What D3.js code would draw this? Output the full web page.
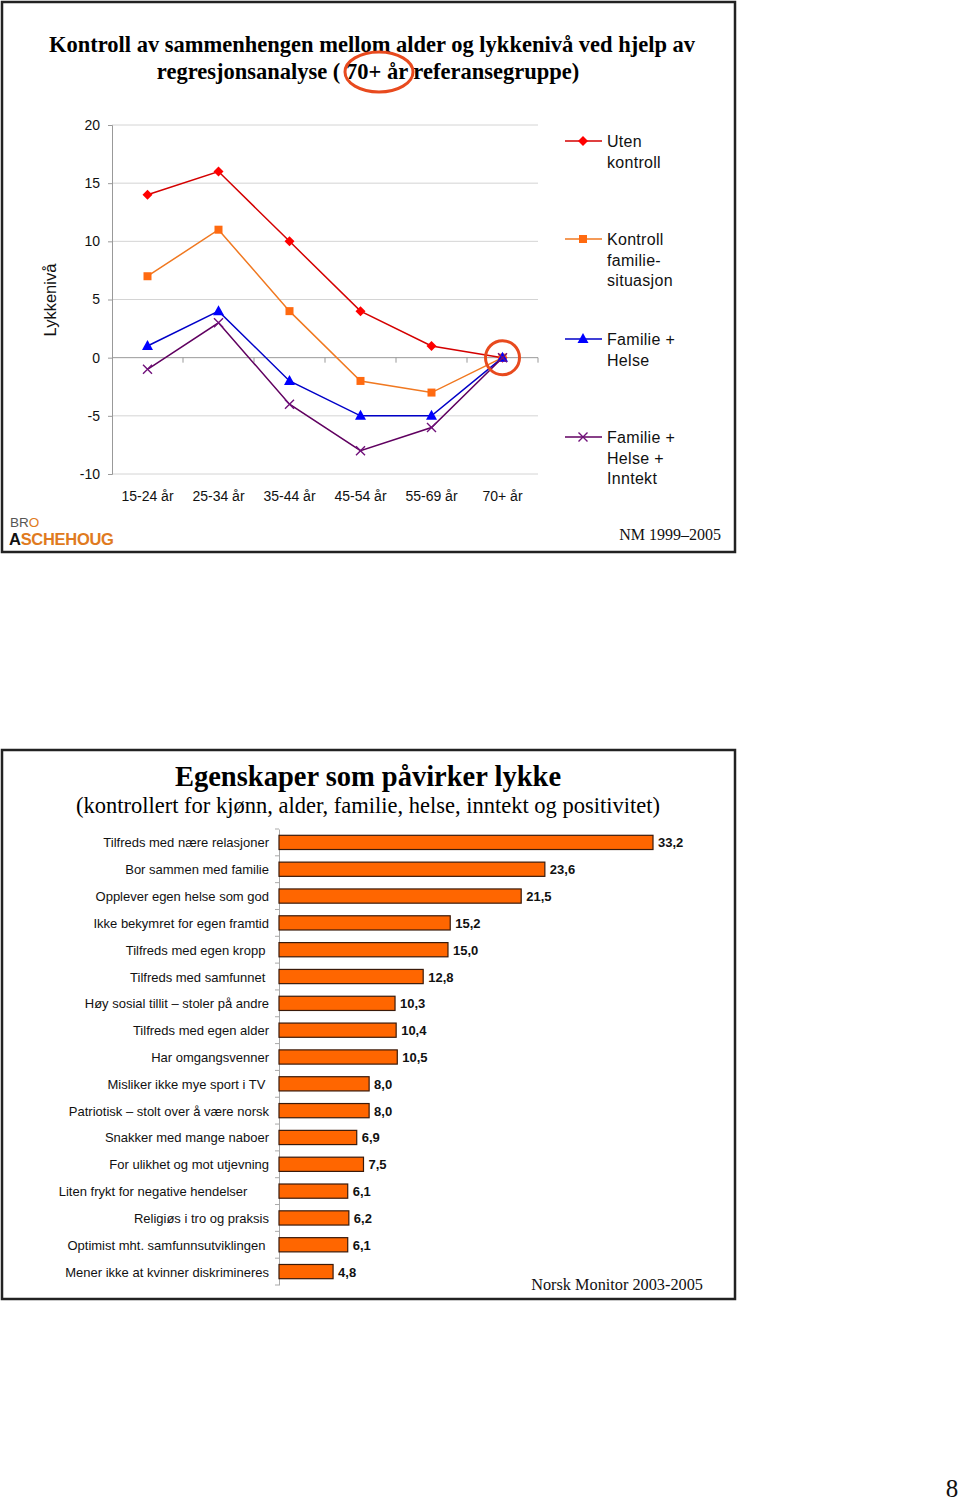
<!DOCTYPE html>
<html><head><meta charset="utf-8">
<script src="https://cdn.jsdelivr.net/npm/d3@7"></script>
<style>
body{margin:0;background:#fff;}
svg text{white-space:pre;}
</style></head>
<body>
<svg id="c" width="960" height="1501"></svg>
<script>
// ---------- DATA ----------
const ageGroups = ["15-24 år","25-34 år","35-44 år","45-54 år","55-69 år","70+ år"];
const seriesNames = ["Uten kontroll","Kontroll familie-situasjon","Familie + Helse","Familie + Helse + Inntekt"];
const utenKontroll = [14, 16, 10, 4, 1, 0];
const kontrollFamilie = [7, 11, 4, -2, -3, 0];
const familieHelse = [1, 4, -2, -5, -5, 0];
const familieHelseInntekt = [-1, 3, -4, -8, -6, 0];
const yTicks = [20, 15, 10, 5, 0, -5, -10];

const barCategories = ["Tilfreds med nære relasjoner","Bor sammen med familie","Opplever egen helse som god","Ikke bekymret for egen framtid","Tilfreds med egen kropp ","Tilfreds med samfunnet ","Høy sosial tillit – stoler på andre","Tilfreds med egen alder","Har omgangsvenner","Misliker ikke mye sport i TV ","Patriotisk – stolt over å være norsk","Snakker med mange naboer","For ulikhet og mot utjevning","Liten frykt for negative hendelser      ","Religiøs i tro og praksis","Optimist mht. samfunnsutviklingen ","Mener ikke at kvinner diskrimineres"];
const barValues = [33.2, 23.6, 21.5, 15.2, 15.0, 12.8, 10.3, 10.4, 10.5, 8.0, 8.0, 6.9, 7.5, 6.1, 6.2, 6.1, 4.8];

// ---------- SETUP ----------
const svg = d3.select("#c");
const sans = "'Liberation Sans', Arial, Helvetica, sans-serif";
const serif = "'Liberation Serif', 'Times New Roman', serif";

// panel frames
svg.append("rect").attr("x",2).attr("y",2).attr("width",733).attr("height",550)
  .attr("fill","none").attr("stroke","#222").attr("stroke-width",2.5);
svg.append("rect").attr("x",2).attr("y",750).attr("width",733).attr("height",549)
  .attr("fill","none").attr("stroke","#222").attr("stroke-width",2.5);

// ---------- TOP CHART ----------
const title1 = ["Kontroll av sammenhengen mellom alder og lykkenivå ved hjelp av","regresjonsanalyse ( 70+ år referansegruppe)"];
svg.append("text").attr("x",372).attr("y",52).attr("text-anchor","middle")
  .attr("font-family",serif).attr("font-weight","bold").attr("font-size",22.5).text(title1[0]);
svg.append("text").attr("x",368).attr("y",79).attr("text-anchor","middle")
  .attr("font-family",serif).attr("font-weight","bold").attr("font-size",22.5).text(title1[1]);
svg.append("ellipse").attr("cx",379).attr("cy",72).attr("rx",34).attr("ry",20)
  .attr("fill","none").attr("stroke","#e84a1e").attr("stroke-width",3);

const x = d3.scalePoint().domain(ageGroups).range([112,538]).padding(0.5);
const y = d3.scaleLinear().domain([-10,20]).range([474,125]);

const g = svg.append("g");
// gridlines
g.selectAll("line.grid").data(yTicks.filter(d=>d!==0)).join("line")
  .attr("x1",112).attr("x2",538).attr("y1",d=>y(d)).attr("y2",d=>y(d))
  .attr("stroke","#d4d4d4").attr("stroke-width",1);
// y axis
const yAxis = g.append("g").attr("transform","translate(112,0)")
  .call(d3.axisLeft(y).tickValues(yTicks).tickSize(4).tickPadding(8).tickFormat(d=>String(d)));
yAxis.select(".domain").attr("stroke","#999");
yAxis.selectAll(".tick line").attr("stroke","#999");
yAxis.selectAll("text").attr("font-family",sans).attr("font-size",14).attr("fill","#111");
// zero axis
const xAxis = g.append("g").attr("transform",`translate(0,${y(0)})`)
  .call(d3.axisBottom(x).tickSize(0).tickFormat(""));
xAxis.select(".domain").attr("stroke","#999").attr("d","M112,0H538");
const bw = x.step();
g.selectAll("line.xt").data(d3.range(1,7)).join("line")
  .attr("x1",d=>112+d*bw).attr("x2",d=>112+d*bw).attr("y1",y(0)).attr("y2",y(0)+5)
  .attr("stroke","#999");
// category labels
g.selectAll("text.cat").data(ageGroups).join("text")
  .attr("x",d=>x(d)).attr("y",501).attr("text-anchor","middle")
  .attr("font-family",sans).attr("font-size",14).attr("fill","#111").text(d=>d);
// axis title
g.append("text").attr("transform","translate(56,300) rotate(-90)").attr("text-anchor","middle")
  .attr("font-family",sans).attr("font-size",16.5).attr("fill","#111").text("Lykkenivå");

const series = [
  {name:seriesNames[0], vals:utenKontroll, line:"#d40000", mark:"#ff0000", sym:"diamond"},
  {name:seriesNames[1], vals:kontrollFamilie, line:"#f07820", mark:"#ff6a10", sym:"square"},
  {name:seriesNames[2], vals:familieHelse, line:"#0000c8", mark:"#0000ff", sym:"triangle"},
  {name:seriesNames[3], vals:familieHelseInntekt, line:"#600060", mark:"#70107a", sym:"x"}
];
const lineGen = d3.line().x((d,i)=>x(ageGroups[i])).y(d=>y(d));
function drawMarker(sel, s, cx, cy){
  if(s.sym==="diamond"){
    sel.append("path").attr("d",`M${cx},${cy-5}L${cx+5},${cy}L${cx},${cy+5}L${cx-5},${cy}Z`).attr("fill",s.mark);
  } else if(s.sym==="square"){
    sel.append("rect").attr("x",cx-4).attr("y",cy-4).attr("width",8).attr("height",8).attr("fill",s.mark);
  } else if(s.sym==="triangle"){
    sel.append("path").attr("d",`M${cx},${cy-6}L${cx+5.5},${cy+4}L${cx-5.5},${cy+4}Z`).attr("fill",s.mark);
  } else {
    sel.append("path").attr("d",`M${cx-4.5},${cy-4.5}L${cx+4.5},${cy+4.5}M${cx+4.5},${cy-4.5}L${cx-4.5},${cy+4.5}`)
      .attr("stroke",s.mark).attr("stroke-width",1.4).attr("fill","none");
  }
}
series.forEach(s=>{
  g.append("path").datum(s.vals).attr("d",lineGen).attr("fill","none").attr("stroke",s.line).attr("stroke-width",1.5);
  s.vals.forEach((v,i)=>drawMarker(g, s, x(ageGroups[i]), y(v)));
});
// highlight circle
g.append("circle").attr("cx",x("70+ år")).attr("cy",y(0)).attr("r",17)
  .attr("fill","none").attr("stroke","#e84a1e").attr("stroke-width",3);

// legend
const legendRows = [
  {lines:["Uten","kontroll"], y:141},
  {lines:["Kontroll","familie-","situasjon"], y:239},
  {lines:["Familie +","Helse"], y:339},
  {lines:["Familie +","Helse +","Inntekt"], y:437}
];
legendRows.forEach((r,i)=>{
  const s = series[i];
  g.append("line").attr("x1",565).attr("x2",602).attr("y1",r.y).attr("y2",r.y).attr("stroke",s.line).attr("stroke-width",1.5);
  drawMarker(g, s, 583, r.y);
  r.lines.forEach((t,j)=>{
    g.append("text").attr("x",607).attr("y",r.y+6+j*20.5).attr("font-family",sans).attr("font-size",16)
      .attr("letter-spacing",0.3).attr("fill","#111").text(t);
  });
});

// logo
const logo = svg.append("g");
const t1 = logo.append("text").attr("x",10).attr("y",527).attr("font-family",sans).attr("font-size",13.5);
t1.append("tspan").attr("fill","#555").text("BR");
t1.append("tspan").attr("fill","#e07a20").text("O");
const t2 = logo.append("text").attr("x",9).attr("y",545).attr("font-family",sans).attr("font-size",16.5).attr("font-weight","bold").attr("letter-spacing",-0.3);
t2.append("tspan").attr("fill","#111").text("A");
t2.append("tspan").attr("fill","#e07a20").text("SCHEHOUG");
svg.append("text").attr("x",721).attr("y",540).attr("text-anchor","end").attr("font-family",serif).attr("font-size",16).attr("fill","#111").text("NM 1999–2005");

// ---------- BOTTOM CHART ----------
svg.append("text").attr("x",368).attr("y",786).attr("text-anchor","middle")
  .attr("font-family",serif).attr("font-weight","bold").attr("font-size",28.5).text("Egenskaper som påvirker lykke");
svg.append("text").attr("x",368).attr("y",813).attr("text-anchor","middle")
  .attr("font-family",serif).attr("font-size",22.5).text("(kontrollert for kjønn, alder, familie, helse, inntekt og positivitet)");

const xb = d3.scaleLinear().domain([0,33.2]).range([279,653]);
const yb = d3.scaleBand().domain(barCategories).range([829,1285]).paddingInner(0.47).paddingOuter(0.235);
const gb = svg.append("g");
const ax = gb.append("g").attr("transform","translate(279,0)").call(d3.axisLeft(yb).tickSize(0).tickFormat(""));
ax.select(".domain").attr("stroke","#aaa");
// tick marks between bands
gb.selectAll("line.bt").data(d3.range(barCategories.length+1)).join("line")
  .attr("x1",275).attr("x2",279)
  .attr("y1",d=>829+d*yb.step()).attr("y2",d=>829+d*yb.step()).attr("stroke","#aaa");
gb.selectAll("rect.bar").data(barValues).join("rect")
  .attr("x",xb(0)).attr("y",(d,i)=>yb(barCategories[i]))
  .attr("width",d=>xb(d)-xb(0)).attr("height",yb.bandwidth())
  .attr("fill","#ff6600").attr("stroke","#3a1a0a").attr("stroke-width",1.2);
gb.selectAll("text.val").data(barValues).join("text")
  .attr("x",d=>xb(d)+5).attr("y",(d,i)=>yb(barCategories[i])+yb.bandwidth()/2+5)
  .attr("font-family",sans).attr("font-weight","bold").attr("font-size",13).attr("fill","#111")
  .text(d=>d.toFixed(1).replace(".",","));
gb.selectAll("text.cat").data(barCategories).join("text")
  .attr("x",269).attr("y",d=>yb(d)+yb.bandwidth()/2+5).attr("text-anchor","end")
  .attr("font-family",sans).attr("font-size",13).attr("fill","#111").text(d=>d);

svg.append("text").attr("x",703).attr("y",1290).attr("text-anchor","end").attr("font-family",serif).attr("font-size",16.3).attr("fill","#111").text("Norsk Monitor 2003-2005");

svg.append("text").attr("x",952).attr("y",1497).attr("text-anchor","middle").attr("font-family",serif).attr("font-size",25).attr("fill","#111").text("8");
</script>
</body></html>
